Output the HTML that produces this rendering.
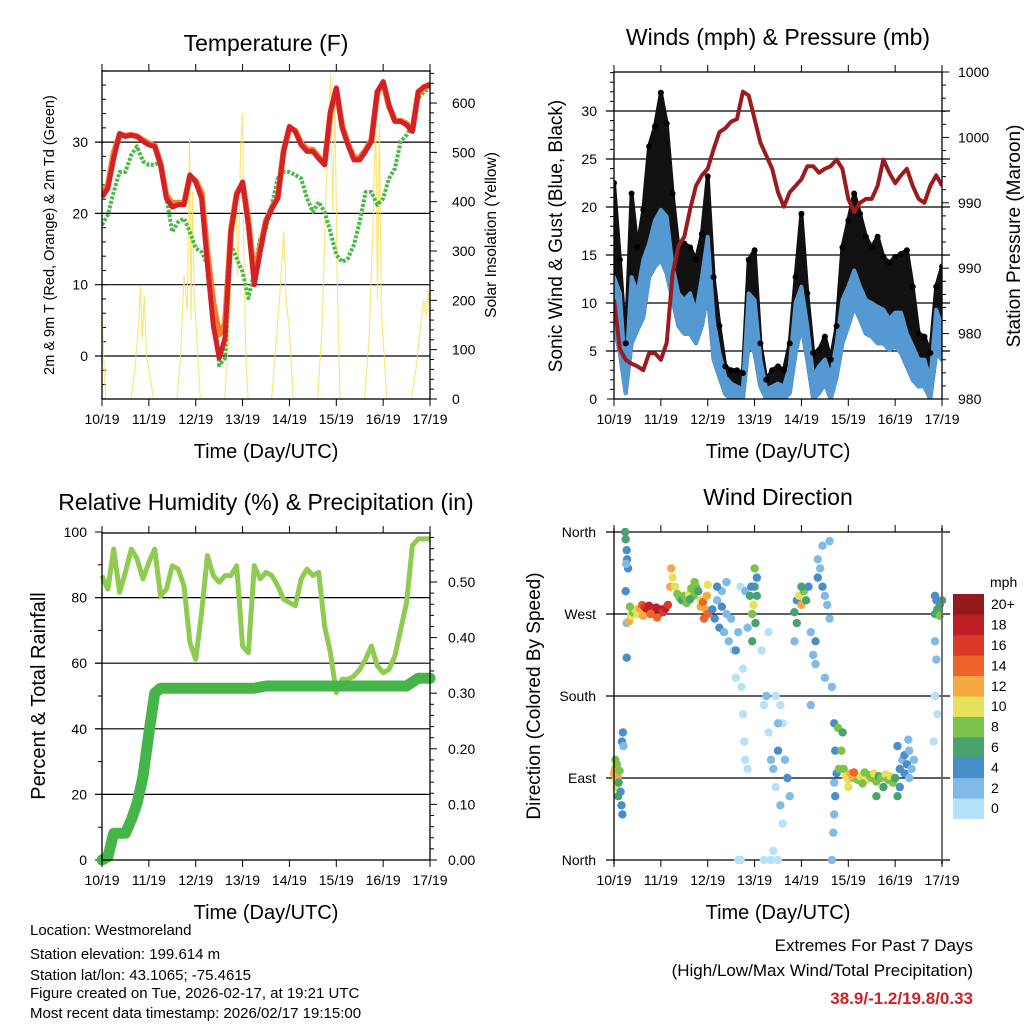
<!DOCTYPE html>
<html><head><meta charset="utf-8"><title>Station Meteogram</title>
<style>
html,body{margin:0;padding:0;background:#fff;}
svg{display:block;font-family:"Liberation Sans",Arial,sans-serif;}
</style></head>
<body>
<svg id="chart" width="1024" height="1024" viewBox="0 0 1024 1024" xmlns="http://www.w3.org/2000/svg">
<defs>
<clipPath id="clipT"><rect x="102" y="71" width="328" height="328"/></clipPath>
<clipPath id="clipW"><rect x="614" y="72" width="328" height="327"/></clipPath>
<clipPath id="clipR"><rect x="96" y="533" width="340" height="333"/></clipPath>
<clipPath id="clipD"><rect x="606" y="528" width="340" height="336"/></clipPath>
</defs>
<rect x="0" y="0" width="1024" height="1024" fill="#fff"/>
<text x="266" y="51" font-size="23" text-anchor="middle">Temperature (F)</text>
<text x="778" y="45" font-size="23" text-anchor="middle">Winds (mph) &amp; Pressure (mb)</text>
<text x="266" y="510" font-size="23" text-anchor="middle">Relative Humidity (%) &amp; Precipitation (in)</text>
<text x="778" y="505" font-size="23" text-anchor="middle">Wind Direction</text>
<text x="266" y="458" font-size="20" text-anchor="middle">Time (Day/UTC)</text>
<text x="778" y="458" font-size="20" text-anchor="middle">Time (Day/UTC)</text>
<text x="266" y="919" font-size="20" text-anchor="middle">Time (Day/UTC)</text>
<text x="778" y="919" font-size="20" text-anchor="middle">Time (Day/UTC)</text>
<text transform="translate(54,235) rotate(-90)" font-size="14.5" text-anchor="middle">2m &amp; 9m T (Red, Orange) &amp; 2m Td (Green)</text>
<text transform="translate(496,235) rotate(-90)" font-size="15.5" text-anchor="middle">Solar Insolation (Yellow)</text>
<text transform="translate(562,236) rotate(-90)" font-size="19" text-anchor="middle">Sonic Wind &amp; Gust (Blue, Black)</text>
<text transform="translate(1020,236) rotate(-90)" font-size="19" text-anchor="middle">Station Pressure (Maroon)</text>
<text transform="translate(45,696) rotate(-90)" font-size="20" text-anchor="middle">Percent &amp; Total Rainfall</text>
<text transform="translate(540,696) rotate(-90)" font-size="19" text-anchor="middle">Direction (Colored By Speed)</text>
<g font-size="15">
<text x="30" y="935">Location: Westmoreland</text>
<text x="30" y="959">Station elevation: 199.614 m</text>
<text x="30" y="980">Station lat/lon: 43.1065; -75.4615</text>
<text x="30" y="998">Figure created on Tue, 2026-02-17, at 19:21 UTC</text>
<text x="30" y="1018">Most recent data timestamp: 2026/02/17 19:15:00</text>
</g>
<text x="973" y="951" font-size="17" text-anchor="end">Extremes For Past 7 Days</text>
<text x="973" y="976" font-size="17" text-anchor="end">(High/Low/Max Wind/Total Precipitation)</text>
<text x="973" y="1004" font-size="17" font-weight="bold" fill="#cc2229" text-anchor="end">38.9/-1.2/19.8/0.33</text>
<text x="990" y="587" font-size="14">mph</text>
</svg>
<script>
const dayLabels = ["10/19","11/19","12/19","13/19","14/19","15/19","16/19","17/19"];
const tempF = [22.3,23.5,27.7,31.2,30.8,31.0,30.8,30.1,29.6,29.4,26.8,22.1,20.9,21.2,21.2,25.4,24.4,22.1,12.8,4.3,-0.3,2.5,17.4,22.6,24.4,18.3,10.0,14.6,18.8,20.7,22.1,28.7,32.2,31.5,29.6,28.7,28.7,27.7,26.8,34.3,37.6,32.0,29.6,27.5,27.5,28.7,30.1,37.1,38.5,35.2,32.9,32.9,32.4,31.5,37.1,37.8,38.0];
const temp9mF = [22.6,24.0,28.5,31.0,30.9,31.0,30.8,30.3,29.8,29.5,27.0,22.5,21.4,21.5,21.4,25.2,24.6,22.8,14.5,7.5,3.0,4.5,17.6,22.8,24.2,19.0,11.0,15.2,19.0,20.8,22.2,28.8,32.0,31.6,29.8,29.0,28.9,27.9,27.0,34.0,37.4,32.2,29.8,27.8,27.8,28.9,30.3,37.0,38.3,35.0,33.0,33.0,32.6,31.7,37.0,37.6,38.2];
const dewF = [18.4,19.8,23.0,25.8,25.8,28.2,29.4,27.3,26.8,26.8,27.3,22.1,17.4,18.8,19.3,17.4,15.1,14.6,12.8,8.1,-1.3,-0.3,15.6,13.7,11.8,8.1,11.8,16.5,17.9,21.2,24.9,25.8,25.8,25.4,24.9,22.1,20.2,21.6,20.2,17.4,14.2,13.2,13.7,15.6,18.8,23.0,23.0,21.2,22.1,24.9,26.3,30.1,31.0,32.4,36.1,37.1,37.6];
const solarT = [0,0.03,0.08, 0.62,0.7,0.78,0.82,0.86,0.9,0.95,1.0,1.1, 1.6,1.68,1.75,1.82,1.87,1.9,1.93,1.97,2.05,2.1, 2.62,2.7,2.78,2.85,2.9,2.96,3.0,3.03,3.08,3.12, 3.62,3.72,3.8,3.88,3.93,4.0,4.08, 4.6,4.7,4.78,4.84,4.88,4.92,4.97,5.02,5.08, 5.6,5.7,5.78,5.84,5.88,5.92,5.96,6.02,6.08, 6.6,6.7,6.8,6.87,6.92,6.97,7.0];
const solarW = [180,100,0, 0,60,150,230,120,210,90,60,0, 0,90,250,180,530,160,420,200,80,0, 0,120,300,420,250,510,580,260,60,0, 0,120,220,340,200,140,0, 0,150,420,560,660,380,600,250,0, 0,120,350,570,200,560,180,90,0, 0,60,150,200,170,220,130];
const gustHi = [22.5,14.5,5.8,21.4,15.8,19.7,26.3,28.4,31.9,28.7,21.4,15.8,16.2,15.8,14.5,17.2,23.2,12.7,7.6,3.4,3.0,3.0,2.7,14.5,15.5,5.8,2.0,3.0,3.4,3.0,5.8,12.7,19.3,11.0,4.8,5.1,6.5,4.1,7.6,15.8,18.6,21.4,19.3,16.9,15.8,16.9,14.8,14.2,14.8,15.1,15.5,11.7,6.8,6.5,4.8,11.7,13.8];
const windHi = [12.7,11.0,2.3,12.7,11.0,14.5,16.2,18.6,19.7,19.0,13.8,11.0,10.3,11.0,9.0,12.7,16.9,8.3,4.8,2.3,1.6,1.3,1.0,11.0,10.3,4.1,1.0,1.3,1.6,1.3,3.4,10.0,11.7,7.6,2.3,3.4,4.1,2.3,5.8,10.3,11.7,13.4,11.7,10.3,10.0,9.6,9.3,8.3,9.0,9.0,6.8,5.5,4.1,4.1,2.0,9.3,7.6];
const windLo = [7.6,4.8,0.6,5.8,7.2,8.5,12.7,13.8,14.5,13.1,10.3,7.6,6.8,6.8,5.8,7.6,11.0,4.1,2.3,0.5,0,0,0,5.8,4.8,1.3,0,0,0,0,0.6,4.8,7.6,4.1,0,0.6,1.6,0,2.3,5.8,7.6,9.6,8.3,6.8,6.5,5.8,5.8,5.1,5.5,4.8,3.4,2.0,1.3,1.3,0,4.8,4.1];
const pressureMb = [985.1,981.3,980.5,980.2,980.0,979.7,981.0,981.0,980.5,981.8,987.1,989.2,989.9,992.0,993.8,994.6,995.1,996.6,997.9,998.2,998.7,998.9,1001.0,1000.7,998.9,997.1,996.1,995.1,993.3,992.2,993.3,993.8,994.3,995.3,995.3,994.8,995.1,995.3,995.8,995.1,992.8,991.8,992.5,992.8,992.8,993.8,995.8,994.8,994.0,994.6,995.1,993.8,992.8,992.5,993.8,994.6,993.8];
const pressureTicks = [977.5,982.5,987.5,992.5,997.5,1002.5];
const rhPct = [86.7,82.6,94.8,81.6,87.7,94.8,91.8,85.7,90.8,94.8,80.5,82.6,89.7,88.7,83.6,66.3,61.2,75.4,92.8,86.7,84.7,86.7,86.7,89.7,65.2,63.2,89.7,85.7,87.7,86.7,83.6,79.5,78.5,77.5,85.7,88.7,86.7,87.7,71.3,63.2,51.0,55.1,55.1,56.1,58.1,61.2,65.2,59.2,57.1,58.1,62.2,70.3,78.5,95.9,97.9,97.9,97.9];
const precipIn = [0,0.006,0.048,0.048,0.048,0.072,0.102,0.150,0.228,0.300,0.309,0.309,0.309,0.309,0.309,0.309,0.309,0.309,0.309,0.309,0.309,0.309,0.309,0.309,0.309,0.309,0.309,0.311,0.313,0.313,0.313,0.313,0.313,0.313,0.313,0.313,0.313,0.313,0.313,0.313,0.313,0.313,0.313,0.313,0.313,0.313,0.313,0.313,0.313,0.313,0.313,0.313,0.313,0.320,0.327,0.327,0.327];
const dirDay = [0.0,0.02,0.04,0.05,0.06,0.08,0.1,0.12,0.14,0.16,0.18,0.17,0.19,0.2,0.09,0.03,
0.24,0.25,0.27,0.28,0.3,0.26,0.25,0.27,0.27,
0.32,0.36,0.4,0.45,0.5,0.55,0.6,0.65,0.7,0.75,0.8,0.85,0.9,0.95,1.0,1.05,1.1,1.15,0.62,0.78,0.92,0.34,
1.2,1.22,1.25,1.3,1.35,1.4,1.45,1.5,1.55,1.6,1.65,1.7,1.75,1.8,1.85,1.72,1.62,
1.85,1.9,1.95,2.0,1.92,1.98,2.0,
2.1,2.15,2.2,2.25,2.3,2.35,2.4,2.45,2.2,2.3,2.4,2.5,
2.55,2.6,2.65,2.7,2.72,2.75,2.78,2.8,2.85,2.7,2.65,2.6,2.8,2.85,2.75,
2.9,2.95,3.0,3.0,3.02,2.95,3.05,2.98,3.05,2.93,
3.2,3.3,3.35,3.4,3.45,3.5,3.55,3.6,3.65,3.7,3.75,3.6,3.45,3.2,3.35,3.5,3.3,3.25,3.5,3.4,3.15,3.55,
3.85,3.9,3.95,4.0,4.05,3.9,4.0,3.85,4.1,
4.15,4.2,4.25,4.3,4.35,4.4,4.45,4.5,4.55,4.6,4.3,4.5,4.6,4.45,4.2,4.35,
4.65,4.7,4.72,4.75,4.72,4.7,4.68,4.65,4.78,4.8,4.7,
4.85,4.9,4.95,5.0,5.05,5.1,5.15,5.2,5.25,5.3,5.35,5.4,5.45,5.5,5.55,5.6,5.65,5.7,5.75,5.8,5.85,5.9,5.95,6.0,6.05,5.0,5.6,4.88,5.12,5.3,
6.1,6.15,6.2,6.25,6.3,6.35,6.1,6.2,6.3,6.4,6.05,6.28,
6.85,6.9,6.95,7.0,6.88,6.85,6.88,6.85,6.9,6.85,6.95,6.82];
const dirDeg = [95,100,88,80,105,92,85,98,75,60,50,130,140,125,70,110,
360,352,340,330,320,325,295,260,222,
262,268,272,275,270,276,280,278,274,279,276,273,277,270,275,272,276,280,268,270,266,278,
300,320,310,300,292,288,285,290,282,292,298,290,300,295,285,305,286,
278,283,275,270,265,290,302,
275,265,285,255,295,250,270,240,300,278,305,265,
230,200,250,300,190,160,130,110,100,0,0,230,295,255,210,
290,270,300,320,260,240,310,280,290,300,
170,140,110,100,80,120,60,40,110,90,70,150,180,0,0,0,250,180,150,10,230,170,
272,285,290,280,295,260,300,240,285,
300,250,225,240,330,320,300,290,280,265,215,200,350,345,170,310,
190,150,120,95,70,50,30,0,145,100,85,
120,100,92,88,95,90,94,88,92,90,96,88,93,90,95,86,92,90,80,94,88,92,85,90,70,80,70,140,96,84,
100,110,115,105,120,100,80,95,90,110,125,132,
270,275,280,285,285,240,220,180,160,290,268,130];
const dirSpd = [12,12,10,10,8,12,6,8,4,4,4,4,4,2,6,8,
6,6,4,4,4,2,4,2,4,
12,10,8,10,10,12,14,16,18,18,18,16,18,20,18,16,18,16,12,14,14,8,
12,12,10,10,8,8,6,8,8,10,8,8,8,6,10,8,6,
12,14,12,14,14,12,10,
4,4,2,4,2,2,2,2,4,4,2,2,
0,0,2,0,0,0,0,0,0,0,0,4,2,2,0,
6,8,6,8,6,6,4,10,6,4,
0,0,2,2,0,4,2,0,2,4,2,0,0,0,0,0,0,2,2,0,0,0,
6,4,10,12,8,6,6,2,6,
4,2,2,4,2,2,4,2,2,2,2,2,2,2,2,4,
2,4,4,4,4,2,2,2,8,8,2,
8,8,10,10,12,12,10,8,10,10,8,10,8,8,10,8,6,8,6,10,8,10,8,6,6,10,6,6,14,8,
4,2,4,4,2,2,4,4,2,2,4,2,
6,6,6,6,4,2,2,0,0,4,8,0];
const speedBins = ["0","2","4","6","8","10","12","14","16","18","20+"];
const binColors = ["#b5e2f8","#7fbbe6","#4a8ec9","#47a46f","#7cc24b","#e6e05a","#f6a943","#ef642b","#da3829","#bd1e25","#951a1d"];

const NS = 'http://www.w3.org/2000/svg';
const svg = document.getElementById('chart');
function mk(tag, attrs, parent){
  const e = document.createElementNS(NS, tag);
  for (const k in attrs) e.setAttribute(k, attrs[k]);
  (parent || svg).appendChild(e);
  return e;
}
const STEP = 0.125;
const DAYPX = 46.86;
const tX = d => 102 + d*DAYPX, tY = f => 356 - f*7.13, sY = w => 399 - w*0.4933;
const wX = d => 614 + d*DAYPX, wY = m => 399 - m*9.6, pY = mb => 399 - (mb-977.5)*13.08;
const rX = d => 102 + d*DAYPX, rY = p => 860 - p*3.28, qY = v => 860 - v*556;
const dX = d => 614 + d*DAYPX, dY = g => 860 - g*0.9111;

function linePts(arr, xs, ys){ return arr.map((v,i)=> xs(i*STEP).toFixed(1)+','+ys(v).toFixed(1)).join(' '); }
function hGrid(y, x1, x2, name){
  const l = mk('line',{x1:x1,x2:x2,y1:y,y2:y,stroke:'#000','stroke-width':1.2});
  
  
}
function tickLabel(x, y, txt, anchor, size, name){
  const t = mk('text',{x:x,y:y+5,'font-size':size||14,'text-anchor':anchor});
  t.textContent = txt;
  
  
}
function tick(x1,y1,x2,y2){
  const l = mk('line',{x1:x1,y1:y1,x2:x2,y2:y2,stroke:'#000','stroke-width':1});
  
  
}
function frame(x,y,w,h,name){
  const r = mk('rect',{x:x,y:y,width:w,height:h,fill:'none',stroke:'#000','stroke-width':1.3});
  
  
}
function xAxis(xs, yb, yt, name){
  dayLabels.forEach((lab,i)=>{
    const x = xs(i);
    tick(x,yb,x,yb+7); tick(x,yt,x,yt-7);
    tickLabel(x, yb+20, lab, 'middle', 14, name+'-tick-label');
  });
}

// TEMPERATURE
[0,10,20,30].forEach(v=>{ hGrid(tY(v), 95, 430, 'temp-gridline'); tickLabel(88, tY(v), String(v), 'end', 14, 'temp-y-tick-label'); });
for(let v=-6; v<=40; v+=2){ tick(102,tY(v),106,tY(v)); }
for(let w=0; w<=660; w+=20){ tick(430,sY(w),w%100===0?437:434,sY(w)); }
[0,100,200,300,400,500,600].forEach(w=> tickLabel(452, sY(w), String(w), 'start', 14, 'solar-y-tick-label'));
const gT = mk('g',{'clip-path':'url(#clipT)'});


const solar = mk('polyline',{points: solarT.map((t,i)=> tX(t).toFixed(1)+','+sY(solarW[i]).toFixed(1)).join(' '), fill:'none', stroke:'#f9df5c','stroke-width':1.1, opacity:0.85}, gT);


const dew = mk('polyline',{points: linePts(dewF,tX,tY), fill:'none', stroke:'#4cb848','stroke-width':4,'stroke-dasharray':'3 1.6','stroke-linejoin':'round'}, gT);


const t9 = mk('polyline',{points: linePts(temp9mF,tX,tY), fill:'none', stroke:'#f47d30','stroke-width':6,'stroke-linejoin':'round'}, gT);


const t2 = mk('polyline',{points: linePts(tempF,tX,tY), fill:'none', stroke:'#d42127','stroke-width':5,'stroke-linejoin':'round'}, gT);


frame(102,71,328,328,'temperature-frame');
xAxis(tX, 399, 71, 'temp-x');

// WINDS
[5,10,15,20,25,30].forEach(v=> hGrid(wY(v), 606, 950, 'wind-gridline'));
[0,5,10,15,20,25,30].forEach(v=> tickLabel(597, wY(v), String(v), 'end', 14, 'wind-y-tick-label'));
for(let v=0; v<=34; v+=1){ tick(614,wY(v),v%5===0?607:610,wY(v)); }
for(let mb=977.5; mb<=1002.6; mb+=1){ tick(942,pY(mb),Math.abs((mb-977.5)%5)<0.01?949:946,pY(mb)); }
pressureTicks.forEach(mb=> tickLabel(958, pY(mb), String(Math.round(mb/10)*10), 'start', 14, 'pressure-y-tick-label'));
const gW = mk('g',{'clip-path':'url(#clipW)'});


function band(hi, lo, xs, ys, color, parent, name){
  const top = hi.map((v,i)=> xs(i*STEP).toFixed(1)+','+ys(v).toFixed(1));
  const bot = lo.map((v,i)=> xs(i*STEP).toFixed(1)+','+ys(v).toFixed(1)).reverse();
  const p = mk('polygon',{points: top.concat(bot).join(' '), fill:color, stroke:color,'stroke-width':4,'stroke-linejoin':'round'}, parent);
  
  
}
band(gustHi, windLo, wX, wY, '#111', gW, 'gust-band');
band(windHi, windLo, wX, wY, '#5599d3', gW, 'wind-speed-band');
gustHi.forEach((v,i)=>{
  const c = mk('circle',{cx:wX(i*STEP), cy:wY(v), r:3, fill:'#000'}, gW);
  
  
});
const pres = mk('polyline',{points: linePts(pressureMb,wX,pY), fill:'none', stroke:'#9b1b1e','stroke-width':4,'stroke-linejoin':'round'}, gW);


frame(614,72,328,327,'winds-frame');
xAxis(wX, 399, 72, 'wind-x');

// HUMIDITY
[20,40,60,80].forEach(v=> hGrid(rY(v), 95, 430, 'humidity-gridline'));
[0,20,40,60,80,100].forEach(v=> tickLabel(87, rY(v), String(v), 'end', 14, 'humidity-y-tick-label'));
for(let v=0; v<=100; v+=10){ tick(102,rY(v),v%20===0?95:98,rY(v)); }
for(let v=0; v<=0.585; v+=0.02){ tick(430,qY(v),Math.round(v*100)%10===0?437:434,qY(v)); }
[0,0.1,0.2,0.3,0.4,0.5].forEach(v=> tickLabel(448, qY(v), v.toFixed(2), 'start', 14, 'precip-y-tick-label'));
const gR = mk('g',{'clip-path':'url(#clipR)'});


const rh = mk('polyline',{points: linePts(rhPct,rX,rY), fill:'none', stroke:'#8fcb50','stroke-width':5,'stroke-linejoin':'round'}, gR);


const pr = mk('polyline',{points: linePts(precipIn,rX,qY), fill:'none', stroke:'#45b549','stroke-width':11,'stroke-linejoin':'round','stroke-linecap':'round'}, gR);


frame(102,533,328,327,'humidity-frame');
xAxis(rX, 860, 533, 'humidity-x');

// WIND DIRECTION
[270,180,90].forEach(v=> hGrid(dY(v), 606, 950, 'direction-gridline'));
hGrid(dY(360), 606, 950, 'direction-top-line');
hGrid(dY(0), 606, 950, 'direction-bottom-line');
const dirNames = ["North","East","South","West","North"];
[0,90,180,270,360].forEach((v,i)=> tickLabel(596, dY(v), dirNames[i], 'end', 14, 'direction-tick-label'));
const gD = mk('g',{'clip-path':'url(#clipD)'});


dirDay.forEach((d,i)=>{
  const bin = Math.min(10, Math.floor(dirSpd[i]/2));
  const c = mk('circle',{cx:dX(d).toFixed(1), cy:dY(dirDeg[i]).toFixed(1), r:4.2, fill:binColors[bin]}, gD);
  
  
});
const lf = mk('line',{x1:614,x2:614,y1:528,y2:864,stroke:'#000','stroke-width':1.3});


const rf = mk('line',{x1:942,x2:942,y1:528,y2:864,stroke:'#666','stroke-width':1.8});


dayLabels.forEach((lab,i)=>{
  const x = dX(i);
  tick(x,860,x,867); tick(x,532,x,525);
  tickLabel(x, 880, lab, 'middle', 14, 'direction-x-tick-label');
});
const cbTop = 594, cbH = 20.4;
speedBins.forEach((lab,i)=>{
  const k = speedBins.length-1-i;
  const y = cbTop + k*cbH;
  const r = mk('rect',{x:953,y:y.toFixed(1),width:31,height:(cbH+0.5).toFixed(1),fill:binColors[i]});
  
  
  tickLabel(991, y+cbH/2, lab, 'start', 14, 'colorbar-label');
});
</script>
</body></html>
